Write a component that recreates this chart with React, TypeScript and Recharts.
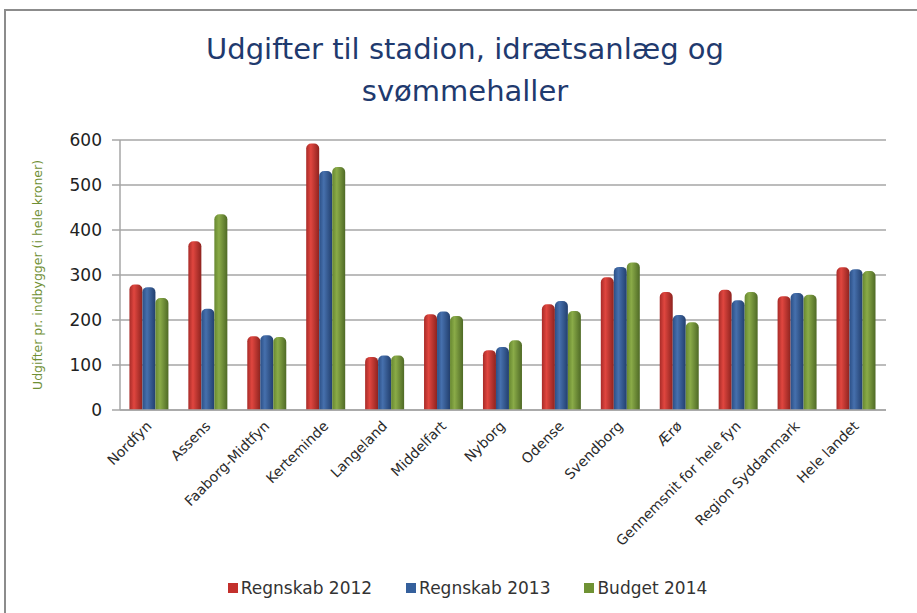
import { Bar, BarChart, CartesianGrid, XAxis, YAxis } from "recharts";

const municipalities = [
  "Nordfyn",
  "Assens",
  "Faaborg-Midtfyn",
  "Kerteminde",
  "Langeland",
  "Middelfart",
  "Nyborg",
  "Odense",
  "Svendborg",
  "Ærø",
  "Gennemsnit for hele fyn",
  "Region Syddanmark",
  "Hele landet",
];

const regnskab2012 = [279, 375, 164, 592, 118, 213, 133, 235, 295, 262, 267, 253, 317];
const regnskab2013 = [273, 225, 166, 531, 121, 219, 140, 242, 318, 211, 244, 260, 313];
const budget2014 = [249, 435, 162, 540, 121, 209, 155, 220, 328, 195, 262, 256, 309];

const yTicks = [0, 100, 200, 300, 400, 500, 600];

const series = [
  { key: "r2012", name: "Regnskab 2012", grad: "gRed", stops: ["#a82b28", "#e0463f", "#8e231f"], swatch: "#c3302c" },
  { key: "r2013", name: "Regnskab 2013", grad: "gBlue", stops: ["#2b4f86", "#4670ad", "#223f6e"], swatch: "#35609c" },
  { key: "b2014", name: "Budget 2014", grad: "gGreen", stops: ["#678830", "#8aab48", "#4f6a26"], swatch: "#6f9234" },
];

const data = municipalities.map((name, i) => ({
  name,
  r2012: regnskab2012[i],
  r2013: regnskab2013[i],
  b2014: budget2014[i],
}));

const FONT = "'DejaVu Sans', sans-serif";

function CategoryTick({ x, y, payload }: any) {
  return (
    <text
      x={x + 3}
      y={y + 9}
      transform={`rotate(-45, ${x + 3}, ${y + 9})`}
      textAnchor="end"
      fill="#2b2b2b"
      fontFamily={FONT}
      fontSize={14}
    >
      {payload.value}
    </text>
  );
}

export default function App() {
  return (
    <div style={{ position: "absolute", left: 0, top: 0, width: 917, height: 613, overflow: "hidden", background: "#fff" }}>
      <div
        style={{
          position: "absolute",
          left: 4,
          top: 9,
          width: 1000,
          height: 1000,
          border: "2px solid #8c8c8c",
        }}
      />
      <div
        style={{
          position: "absolute",
          left: 0,
          top: 28,
          width: 930,
          textAlign: "center",
          fontFamily: FONT,
          fontSize: 29,
          lineHeight: "42px",
          color: "#1f3a6e",
        }}
      >
        Udgifter til stadion, idrætsanlæg og
        <br />
        svømmehaller
      </div>

      <div style={{ position: "absolute", left: 0, top: 0 }}>
        <BarChart
          width={917}
          height={613}
          data={data}
          margin={{ top: 140, right: 31, bottom: 0, left: 0 }}
          barCategoryGap="16%"
          barGap={0}
        >
          <defs>
            {series.map((s) => (
              <linearGradient key={s.grad} id={s.grad} x1="0" y1="0" x2="1" y2="0">
                <stop offset="0%" stopColor={s.stops[0]} />
                <stop offset="35%" stopColor={s.stops[1]} />
                <stop offset="100%" stopColor={s.stops[2]} />
              </linearGradient>
            ))}
          </defs>
          <CartesianGrid vertical={false} stroke="#a6a6a6" strokeWidth={1.5} />
          <XAxis
            dataKey="name"
            interval={0}
            height={203}
            tick={<CategoryTick />}
            tickLine={false}
            axisLine={{ stroke: "#a6a6a6", strokeWidth: 1.5 }}
          />
          <YAxis
            domain={[0, 600]}
            ticks={yTicks}
            width={120}
            tickSize={8}
            tickMargin={10}
            axisLine={{ stroke: "#a6a6a6", strokeWidth: 1.5 }}
            tickLine={{ stroke: "#a6a6a6", strokeWidth: 1.5 }}
            tick={{ fill: "#222", fontFamily: FONT, fontSize: 17 }}
            label={{
              value: "Udgifter pr. indbygger (i hele kroner)",
              angle: -90,
              position: "insideLeft",
              offset: 38,
              style: { textAnchor: "middle", fill: "#6f8f34", fontFamily: FONT, fontSize: 12.5 },
            }}
          />
          {series.map((s) => (
            <Bar
              key={s.key}
              dataKey={s.key}
              name={s.name}
              fill={`url(#${s.grad})`}
              radius={[5, 5, 0, 0]}
              isAnimationActive={false}
            />
          ))}
        </BarChart>
      </div>

      <div
        style={{
          position: "absolute",
          left: 0,
          top: 578,
          width: 935,
          display: "flex",
          justifyContent: "center",
          gap: 34,
          fontFamily: FONT,
          fontSize: 17,
          color: "#333",
        }}
      >
        {series.map((s) => (
          <span key={s.key} style={{ display: "flex", alignItems: "center" }}>
            <span
              style={{
                width: 10,
                height: 10,
                background: s.swatch,
                display: "inline-block",
                marginRight: 3,
              }}
            />
            {s.name}
          </span>
        ))}
      </div>
    </div>
  );
}
